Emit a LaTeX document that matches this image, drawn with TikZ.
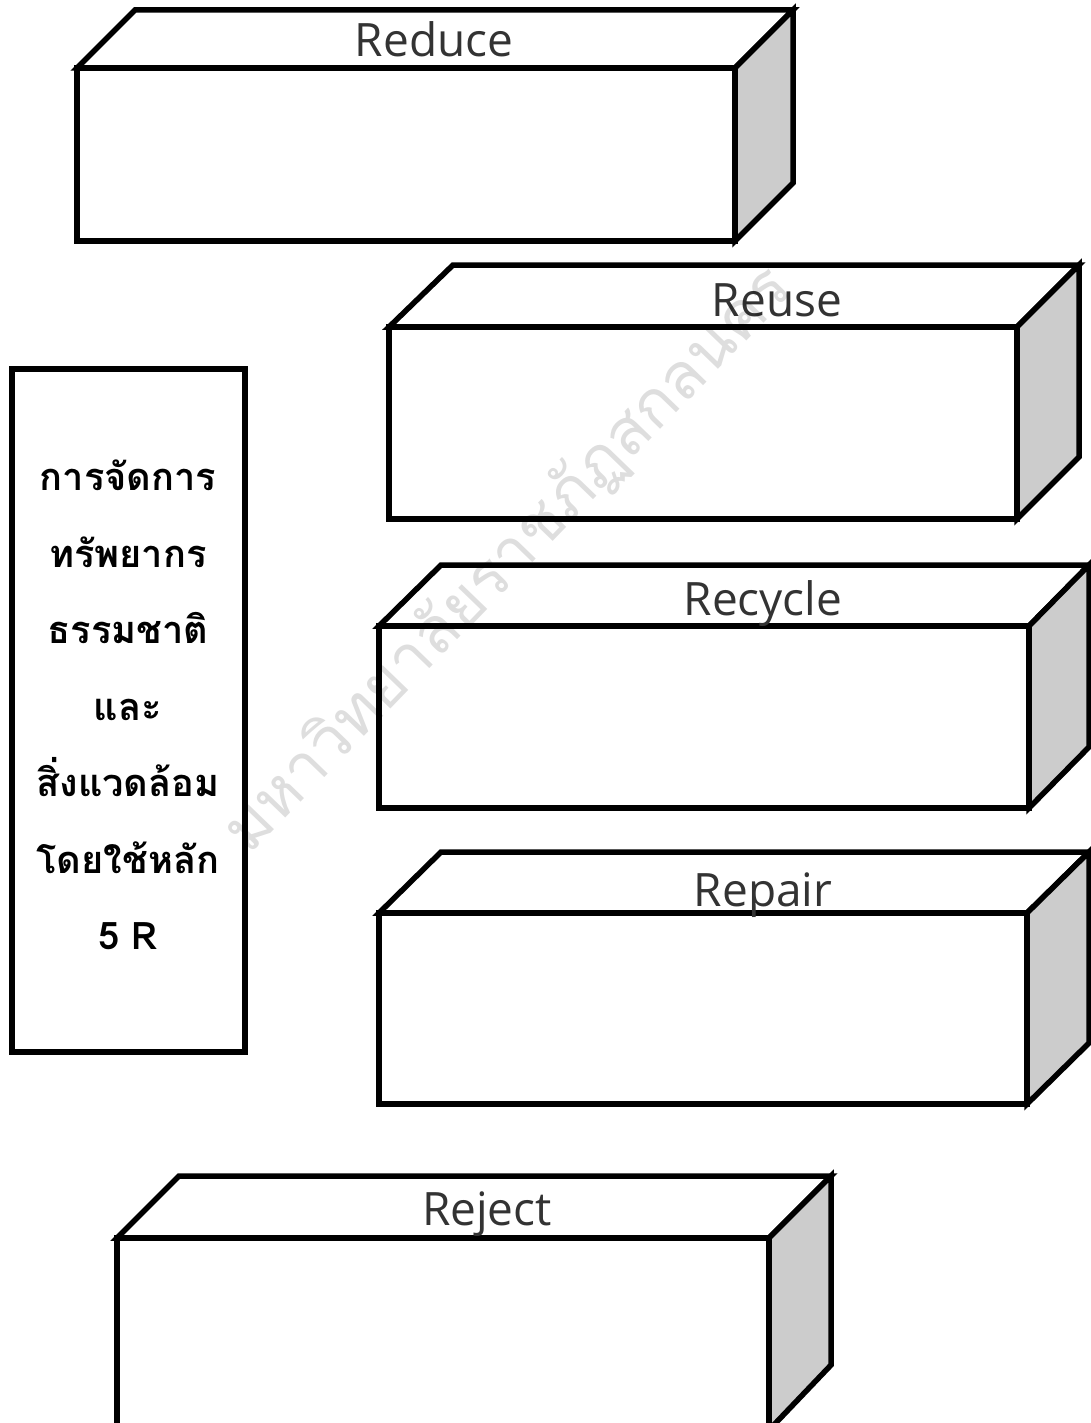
\documentclass[tikz,border=0pt]{standalone}
\usepackage{fontspec}
\newfontfamily\thaifont[Script=Thai]{Loma}
\newfontfamily\labelfont{Open Sans}
\begin{document}
\begin{tikzpicture}[x=1pt,y=-1pt,
  edge/.style={draw=black,line width=5.5pt,line join=miter},
  front/.style={edge,fill=white},
  side/.style={edge,fill=black!20},
  top/.style={edge,fill=white},
  boxlabel/.style={font=\labelfont\fontsize{46}{46}\selectfont,text=black!80,inner sep=0pt,anchor=base},
  thaitext/.style={font=\thaifont\bfseries\fontsize{38}{76.5}\selectfont,align=center,inner sep=0pt},
  wmark/.style={font=\thaifont\fontsize{64}{64}\selectfont,text=black,opacity=0.13,inner sep=0pt}
]
\useasboundingbox[fill=white] (0,0) rectangle (1090,1423);

% Reduce
\path[top]   (77,68) -- (135,10) -- (793,10) -- (735,68) -- cycle;
\path[side]  (735,68) -- (793,10) -- (793,183) -- (735,241) -- cycle;
\path[front] (77,68) rectangle (735,241);
\node[boxlabel] (reduce) at (434,57) {Reduce};

% Reuse
\path[top]   (389,327) -- (453,265) -- (1079,265) -- (1017,327) -- cycle;
\path[side]  (1017,327) -- (1079,265) -- (1079,457) -- (1017,519) -- cycle;
\path[front] (389,327) rectangle (1017,519);
\node[boxlabel] (reuse) at (777,316) {Reuse};

% Recycle
\path[top]   (379,626) -- (441,565) -- (1089,565) -- (1029,626) -- cycle;
\path[side]  (1029,626) -- (1089,565) -- (1089,747) -- (1029,808) -- cycle;
\path[front] (379,626) rectangle (1029,808);
\node[boxlabel] (recycle) at (763,615) {Recycle};

% Repair
\path[top]   (379,913) -- (441,852) -- (1089,852) -- (1027,913) -- cycle;
\path[side]  (1027,913) -- (1089,852) -- (1089,1043) -- (1027,1104) -- cycle;
\path[front] (379,913) rectangle (1027,1104);
\node[boxlabel] (repair) at (763,906) {Repair};

% Reject
\path[top]   (117,1238) -- (179,1176) -- (831,1176) -- (769,1238) -- cycle;
\path[side]  (769,1238) -- (831,1176) -- (831,1365) -- (769,1430) -- cycle;
\path[front] (117,1238) rectangle (769,1440);
\node[boxlabel] (reject) at (487,1225) {Reject};

% left panel
\node[draw=black,line width=5.5pt,outer sep=0pt,minimum width=233pt,minimum height=683pt,inner sep=0pt,fill=white,anchor=north west] (panel) at (12,369) {};
\node[thaitext,anchor=north] (title) at (128,460) {การจัดการ\\ทรัพยากร\\ธรรมชาติ\\และ\\สิ่งแวดล้อม\\โดยใช้หลัก\\5 R};

% watermark (on top, faint)
\node[wmark,rotate=46] (wm) at (508,560) {มหาวิทยาลัยราชภัฏสกลนคร};
\end{tikzpicture}
\end{document}
